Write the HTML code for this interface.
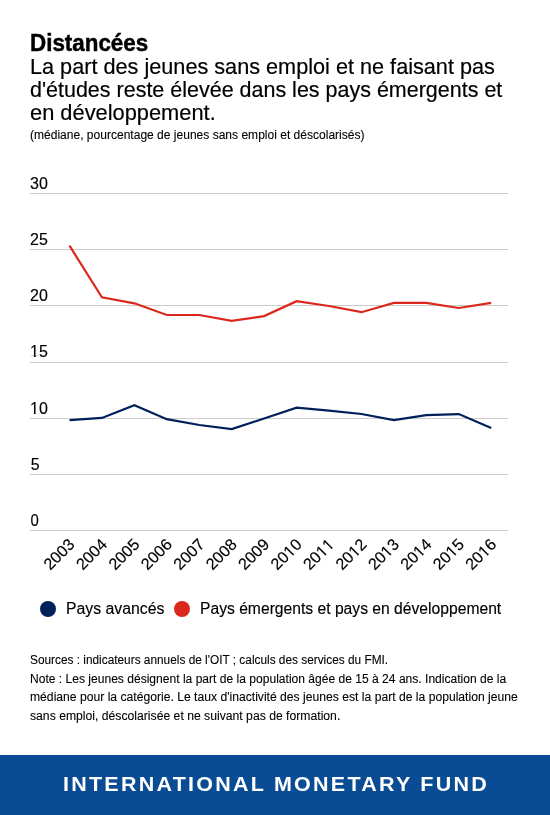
<!DOCTYPE html>
<html><head><meta charset="utf-8">
<style>
html,body{margin:0;padding:0;background:#fff;width:550px;height:815px;overflow:hidden;}
svg{display:block;will-change:transform;}
text{font-family:"Liberation Sans",sans-serif;fill:#000;}
.x,.y{font-kerning:none;}
.t{font-weight:bold;font-size:24px;stroke:#000;stroke-width:0.45px;}
.s{font-size:22.8px;stroke:#000;stroke-width:0.2px;}
.m{font-size:12px;stroke:#000;stroke-width:0.1px;}
.y{font-size:16px;stroke:#000;stroke-width:0.15px;}
.x{font-size:16.2px;stroke:#000;stroke-width:0.15px;}
.l{font-size:16px;stroke:#000;stroke-width:0.15px;}
.n{font-size:12px;stroke:#000;stroke-width:0.1px;}
.f{font-weight:bold;font-size:20px;fill:#fff;letter-spacing:2.1px;}
</style></head>
<body>
<svg width="550" height="815" viewBox="0 0 550 815">
<rect x="0" y="0" width="550" height="815" fill="#fff"/>
<text class="t" x="30" y="50.7" textLength="118.2" lengthAdjust="spacingAndGlyphs">Distancées</text>
<text class="s" x="30" y="73.7" textLength="464.9" lengthAdjust="spacingAndGlyphs">La part des jeunes sans emploi et ne faisant pas</text>
<text class="s" x="30" y="96.7" textLength="472.3" lengthAdjust="spacingAndGlyphs">d'études reste élevée dans les pays émergents et</text>
<text class="s" x="30" y="119.5" textLength="185.7" lengthAdjust="spacingAndGlyphs">en développement.</text>
<text class="m" x="30" y="139.1" textLength="334.5" lengthAdjust="spacingAndGlyphs">(médiane, pourcentage de jeunes sans emploi et déscolarisés)</text>

<g stroke="#cccccc" stroke-width="1">
<line x1="30" x2="508" y1="193.5" y2="193.5"/>
<line x1="30" x2="508" y1="249.5" y2="249.5"/>
<line x1="30" x2="508" y1="305.5" y2="305.5"/>
<line x1="30" x2="508" y1="362.5" y2="362.5"/>
<line x1="30" x2="508" y1="418.5" y2="418.5"/>
<line x1="30" x2="508" y1="474.5" y2="474.5"/>
<line x1="30" x2="508" y1="530.5" y2="530.5"/>
</g>
<text class="y" x="30" y="188.9">30</text>
<text class="y" x="30" y="245">25</text>
<text class="y" x="30" y="301.2">20</text>
<text class="y" x="30" y="357.4">15</text><rect x="30.70" y="355.70" width="3.20" height="2.2" fill="#fff"/><rect x="35.70" y="355.70" width="2.90" height="2.2" fill="#fff"/>
<text class="y" x="30" y="413.6">10</text><rect x="30.70" y="411.90" width="3.20" height="2.2" fill="#fff"/><rect x="35.70" y="411.90" width="2.90" height="2.2" fill="#fff"/>
<text class="y" x="30.7" y="469.8">5</text>
<text class="y" x="30.4" y="526" textLength="8.3" lengthAdjust="spacingAndGlyphs">0</text>

<polyline fill="none" stroke="#DA291C" stroke-width="2.2" stroke-linejoin="miter" points="69.5,245.7 101.9,297.3 134.4,303.3 166.8,315.0 199.3,315.0 231.7,320.9 264.1,316.1 296.6,301.2 329.0,306.0 361.5,312.2 393.9,302.9 426.3,302.9 458.8,308.0 491.2,302.9"/>
<polyline fill="none" stroke="#00205B" stroke-width="2.2" stroke-linejoin="miter" points="69.5,420.1 101.9,417.9 134.4,405.2 166.8,419.2 199.3,425.0 231.7,429.1 264.1,418.5 296.6,407.7 329.0,410.7 361.5,414.0 393.9,420.1 426.3,415.2 458.8,414.1 491.2,428.1"/>

<g class="xl">
<g transform="translate(75.7,545.4) rotate(-45)"><text class="x" text-anchor="end">2003</text></g>
<g transform="translate(108.1,545.4) rotate(-45)"><text class="x" text-anchor="end">2004</text></g>
<g transform="translate(140.6,545.4) rotate(-45)"><text class="x" text-anchor="end">2005</text></g>
<g transform="translate(173.0,545.4) rotate(-45)"><text class="x" text-anchor="end">2006</text></g>
<g transform="translate(205.5,545.4) rotate(-45)"><text class="x" text-anchor="end">2007</text></g>
<g transform="translate(237.9,545.4) rotate(-45)"><text class="x" text-anchor="end">2008</text></g>
<g transform="translate(270.3,545.4) rotate(-45)"><text class="x" text-anchor="end">2009</text></g>
<g transform="translate(302.8,545.4) rotate(-45)"><text class="x" text-anchor="end">2010</text><rect x="-17.62" y="-1.9" width="3.45" height="2.8" fill="#fff"/><rect x="-12.37" y="-1.9" width="3.25" height="2.8" fill="#fff"/></g>
<g transform="translate(335.2,545.4) rotate(-45)"><text class="x" text-anchor="end">2011</text><rect x="-17.62" y="-1.9" width="3.45" height="2.8" fill="#fff"/><rect x="-12.37" y="-1.9" width="3.25" height="2.8" fill="#fff"/><rect x="-8.61" y="-1.9" width="3.45" height="2.8" fill="#fff"/><rect x="-3.36" y="-1.9" width="3.25" height="2.8" fill="#fff"/></g>
<g transform="translate(367.7,545.4) rotate(-45)"><text class="x" text-anchor="end">2012</text><rect x="-17.62" y="-1.9" width="3.45" height="2.8" fill="#fff"/><rect x="-12.37" y="-1.9" width="3.25" height="2.8" fill="#fff"/></g>
<g transform="translate(400.1,545.4) rotate(-45)"><text class="x" text-anchor="end">2013</text><rect x="-17.62" y="-1.9" width="3.45" height="2.8" fill="#fff"/><rect x="-12.37" y="-1.9" width="3.25" height="2.8" fill="#fff"/></g>
<g transform="translate(432.5,545.4) rotate(-45)"><text class="x" text-anchor="end">2014</text><rect x="-17.62" y="-1.9" width="3.45" height="2.8" fill="#fff"/><rect x="-12.37" y="-1.9" width="3.25" height="2.8" fill="#fff"/></g>
<g transform="translate(465.0,545.4) rotate(-45)"><text class="x" text-anchor="end">2015</text><rect x="-17.62" y="-1.9" width="3.45" height="2.8" fill="#fff"/><rect x="-12.37" y="-1.9" width="3.25" height="2.8" fill="#fff"/></g>
<g transform="translate(497.4,545.4) rotate(-45)"><text class="x" text-anchor="end">2016</text><rect x="-17.62" y="-1.9" width="3.45" height="2.8" fill="#fff"/><rect x="-12.37" y="-1.9" width="3.25" height="2.8" fill="#fff"/></g>
</g>

<circle cx="48" cy="609" r="8" fill="#00205B"/>
<text class="l" x="66" y="614" textLength="98.4" lengthAdjust="spacingAndGlyphs">Pays avancés</text>
<circle cx="182" cy="609" r="8" fill="#DA291C"/>
<text class="l" x="200" y="614" textLength="301.2" lengthAdjust="spacingAndGlyphs">Pays émergents et pays en développement</text>

<text class="n" x="30" y="663.9" textLength="358.1" lengthAdjust="spacingAndGlyphs">Sources : indicateurs annuels de l'OIT ; calculs des services du FMI.</text>
<text class="n" x="30" y="682.8" textLength="476.2" lengthAdjust="spacingAndGlyphs">Note : Les jeunes désignent la part de la population âgée de 15 à 24 ans. Indication de la</text>
<text class="n" x="30" y="701.4" textLength="487.8" lengthAdjust="spacingAndGlyphs">médiane pour la catégorie. Le taux d'inactivité des jeunes est la part de la population jeune</text>
<text class="n" x="30" y="720.3" textLength="310.3" lengthAdjust="spacingAndGlyphs">sans emploi, déscolarisée et ne suivant pas de formation.</text>

<rect x="0" y="755" width="550" height="60" fill="#0A4C94"/>
<text class="f" x="63" y="791" textLength="426" lengthAdjust="spacingAndGlyphs">INTERNATIONAL MONETARY FUND</text>
</svg>
</body></html>
